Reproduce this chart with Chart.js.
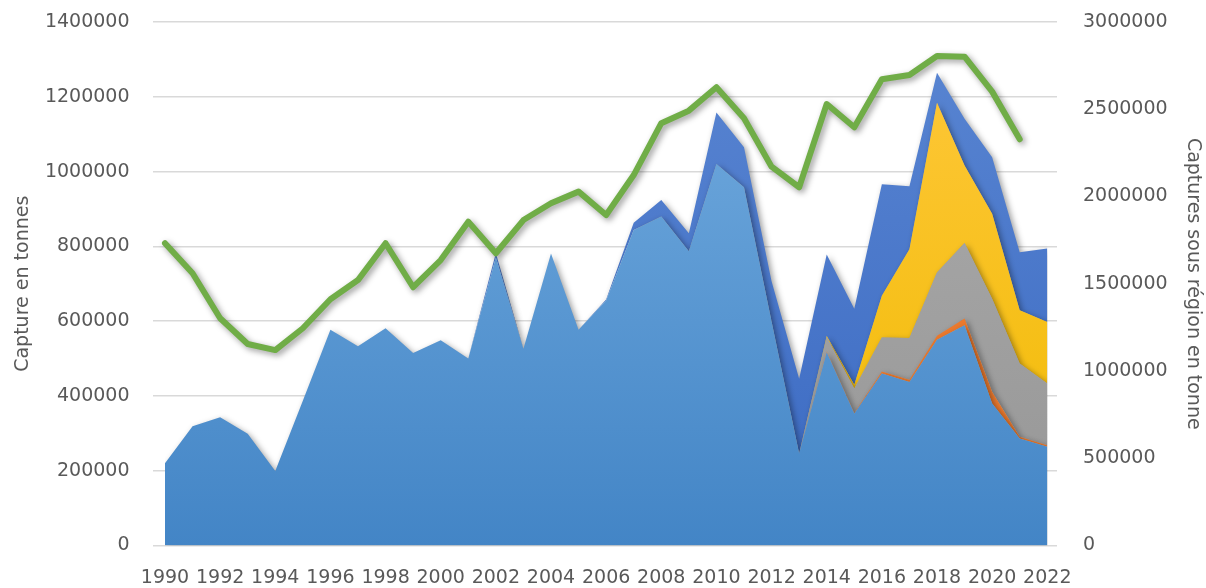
<!DOCTYPE html>
<html>
<head>
<meta charset="utf-8">
<script src="https://cdn.jsdelivr.net/npm/chart.js@4.4.1/dist/chart.umd.min.js"></script>
<style>
  html, body { margin: 0; padding: 0; background: #fff; }
  #wrap { width: 1206px; height: 588px; }
</style>
</head>
<body>
<div id="wrap"><canvas id="myChart"></canvas></div>
<script>
const years = [1990, 1991, 1992, 1993, 1994, 1995, 1996, 1997, 1998, 1999,
  2000, 2001, 2002, 2003, 2004, 2005, 2006, 2007, 2008, 2009,
  2010, 2011, 2012, 2013, 2014, 2015, 2016, 2017, 2018, 2019,
  2020, 2021, 2022];
const yearTicks = [1990, 1992, 1994, 1996, 1998, 2000, 2002, 2004, 2006, 2008,
  2010, 2012, 2014, 2016, 2018, 2020, 2022];

// left axis, stacked areas (tonnes)
const capMain = [220000, 319000, 343000, 299000, 199000, 387000, 577000, 533000, 581000, 515000,
  549000, 500000, 770000, 526000, 781000, 577000, 655000, 844000, 880000, 787000,
  1020000, 958000, 599000, 246000, 517000, 353000, 460000, 437000, 550000, 589000,
  380000, 286000, 264000];
const capOrange = [0, 0, 0, 0, 0, 0, 0, 0, 0, 0,
  0, 0, 0, 0, 0, 0, 0, 0, 0, 0,
  0, 0, 0, 0, 2000, 2000, 5000, 6000, 11000, 18000,
  31000, 5000, 4000];
const capGray = [0, 0, 0, 0, 0, 0, 0, 0, 0, 0,
  0, 0, 0, 0, 0, 0, 0, 0, 0, 0,
  0, 0, 0, 0, 38000, 65000, 91000, 112000, 169000, 202000,
  249000, 196000, 165000];
const capYellow = [0, 0, 0, 0, 0, 0, 0, 0, 0, 0,
  0, 0, 0, 0, 0, 0, 0, 0, 0, 0,
  0, 0, 0, 0, 3000, 10000, 112000, 237000, 454000, 207000,
  227000, 142000, 165000];
const capDark = [0, 0, 0, 0, 0, 0, 0, 0, 0, 0,
  0, 0, 12000, 0, 0, 0, 3000, 19000, 44000, 48000,
  138000, 107000, 108000, 200000, 218000, 203000, 298000, 169000, 80000, 125000,
  151000, 155000, 196000];

// right axis, line (tonnes)
const regionTotal = [1732000, 1560000, 1302000, 1155000, 1120000, 1245000, 1411000, 1521000, 1732000, 1480000,
  1636000, 1856000, 1675000, 1865000, 1961000, 2028000, 1894000, 2123000, 2420000, 2492000,
  2626000, 2448000, 2171000, 2053000, 2530000, 2397000, 2672000, 2696000, 2805000, 2801000,
  2601000, 2328000, null];

const txt = '#595959';
const font = { family: 'DejaVu Sans', size: 19 };

function grad(top, bottom) {
  return function (c) {
    const area = c.chart.chartArea;
    if (!area) return bottom;
    const g = c.chart.ctx.createLinearGradient(0, area.top, 0, area.bottom);
    g.addColorStop(0, top);
    g.addColorStop(1, bottom);
    return g;
  };
}

function area(label, data, top, bottom, fill) {
  return {
    label, data,
    yAxisID: 'y',
    backgroundColor: grad(top, bottom),
    borderColor: bottom,
    borderWidth: 0,
    pointRadius: 0,
    fill: fill,
    tension: 0,
  };
}

// fixed axis width, and no extra top/bottom padding from the tick labels
function fixWidth(w) {
  return function (s) {
    s.width = w;
    s.paddingTop = 0;
    s.paddingBottom = 0;
  };
}

// excel-like soft shadow under every series
const shadow = {
  id: 'shadow',
  beforeDatasetsDraw(chart) {
    const c = chart.ctx;
    c.save();
    c.shadowColor = 'rgba(0,0,0,0.4)';
    c.shadowBlur = 6;
    c.shadowOffsetX = 2.5;
    c.shadowOffsetY = 2.5;
  },
  afterDatasetsDraw(chart) {
    chart.ctx.restore();
  }
};

const ctx = document.getElementById('myChart').getContext('2d');

new Chart(ctx, {
  type: 'line',
  data: {
    labels: years,
    datasets: [
      {
        label: 'Captures sous région',
        data: regionTotal,
        yAxisID: 'y1',
        borderColor: '#70AD47',
        borderWidth: 6,
        borderJoinStyle: 'round',
        borderCapStyle: 'round',
        pointRadius: 0,
        fill: false,
        tension: 0,
      },
      area('Pays 1', capMain, '#74ADE0', '#4385C6', 'origin'),
      area('Pays 2', capOrange, '#ED7D31', '#E8772C', '-1'),
      area('Pays 3', capGray, '#ADADAD', '#969696', '-1'),
      area('Pays 4', capYellow, '#FFC83D', '#F0BA00', '-1'),
      area('Pays 5', capDark, '#5A86D2', '#3A69C2', '-1'),
    ],
  },
  options: {
    responsive: true,
    maintainAspectRatio: false,
    animation: false,
    layout: { padding: { top: 22, bottom: 0, left: 0, right: 0 } },
    plugins: {
      legend: { display: false },
      tooltip: { enabled: false },
    },
    scales: {
      x: {
        type: 'linear',
        min: 1989.547,
        max: 2022.352,
        afterBuildTicks: function (s) {
          s.ticks = yearTicks.map(v => ({ value: v }));
        },
        afterFit: function (s) { s.height = 42.5; },
        grid: { display: false },
        border: { display: false },
        ticks: {
          color: txt, font, padding: 13, maxRotation: 0, autoSkip: false,
          callback: function (value) { return String(value); },
        },
      },
      y: {
        position: 'left',
        stacked: true,
        min: 0,
        max: 1400000,
        afterFit: fixWidth(152.5),
        grid: { color: '#D9D9D9', lineWidth: 1.5, drawTicks: false },
        border: { display: false },
        ticks: {
          stepSize: 200000, color: txt, font, padding: 23,
          callback: function (value) { return String(value); },
        },
        title: {
          display: true, text: 'Capture en tonnes', color: txt, font,
          padding: { top: 12, bottom: 0 },
        },
      },
      y1: {
        position: 'right',
        min: 0,
        max: 3000000,
        afterFit: fixWidth(149),
        grid: { display: false, drawTicks: false },
        border: { display: false },
        ticks: {
          stepSize: 500000, color: txt, font, padding: 26,
          callback: function (value) { return String(value); },
        },
        title: {
          display: true, text: 'Captures sous région en tonne', color: txt, font,
          padding: { top: 2, bottom: 0 },
        },
      },
    },
  },
  plugins: [shadow],
});
</script>
</body>
</html>
